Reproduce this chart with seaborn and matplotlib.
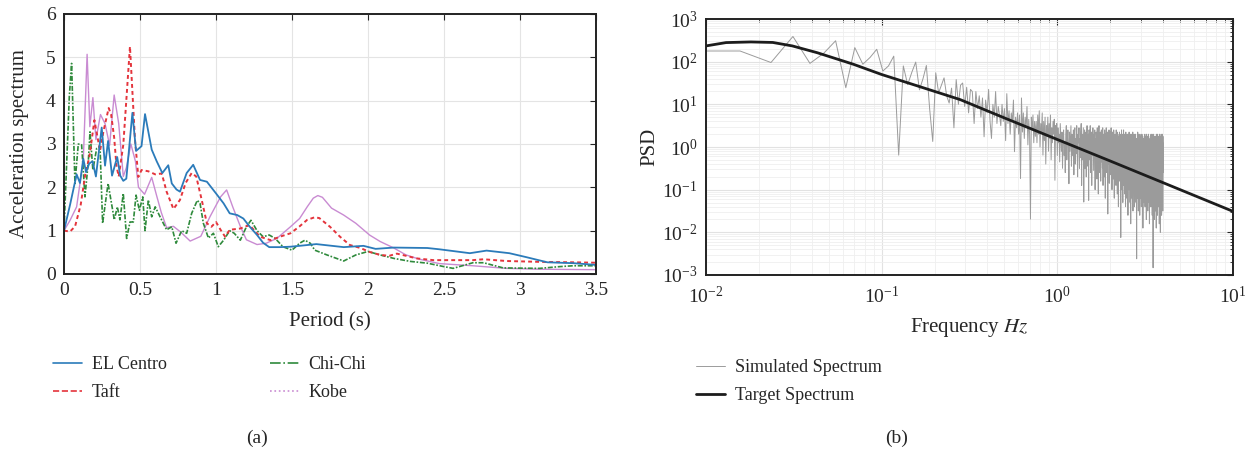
import numpy as np
import pandas as pd
import matplotlib
matplotlib.use("Agg")
import matplotlib.pyplot as plt
from matplotlib.lines import Line2D
import seaborn as sns

# ---- (a) acceleration spectra ----
elcentro_T = [0, 0.04, 0.083, 0.105, 0.127, 0.145, 0.166, 0.188, 0.21, 0.248, 0.27, 0.29, 0.316, 0.35,
              0.37, 0.39, 0.41, 0.45, 0.474, 0.51, 0.533, 0.577, 0.61, 0.647, 0.686, 0.709, 0.74, 0.763,
              0.807, 0.85, 0.895, 0.94, 1.0, 1.05, 1.09, 1.14, 1.18, 1.22, 1.27, 1.31, 1.35, 1.42, 1.49,
              1.55, 1.66, 1.84, 1.97, 2.05, 2.17, 2.39, 2.47, 2.67, 2.78, 2.93, 3.04, 3.18, 3.35, 3.5]
elcentro_S = [1.0, 1.6, 2.3, 2.1, 2.66, 2.35, 2.55, 2.6, 2.25, 3.38, 2.5, 3.07, 2.27, 2.7,
              2.27, 2.15, 2.2, 3.72, 2.84, 2.95, 3.69, 2.87, 2.6, 2.33, 2.51, 2.09, 1.95, 1.9,
              2.33, 2.52, 2.17, 2.13, 1.86, 1.63, 1.4, 1.36, 1.28, 1.1, 0.9, 0.72, 0.62, 0.62, 0.63,
              0.65, 0.69, 0.62, 0.65, 0.58, 0.61, 0.6, 0.57, 0.48, 0.54, 0.48, 0.39, 0.27, 0.25, 0.21]

taft_T = [0, 0.04, 0.073, 0.11, 0.14, 0.167, 0.2, 0.237, 0.26, 0.294, 0.31, 0.33, 0.345, 0.36, 0.39,
          0.434, 0.467, 0.489, 0.51, 0.555, 0.6, 0.643, 0.675, 0.72, 0.763, 0.8, 0.84, 0.87, 0.906,
          0.94, 0.97, 1.0, 1.03, 1.06, 1.09, 1.16, 1.22, 1.29, 1.36, 1.42, 1.49, 1.55, 1.6, 1.65,
          1.68, 1.75, 1.816, 1.88, 1.95, 2.01, 2.08, 2.14, 2.19, 2.25, 2.32, 2.43, 2.54, 2.69, 2.76,
          2.91, 3.13, 3.35, 3.5]
taft_S = [1.0, 0.98, 1.1, 1.6, 2.3, 2.7, 3.55, 2.84, 3.3, 3.83, 3.68, 3.15, 2.5, 2.25, 2.98,
          5.25, 3.1, 2.24, 2.4, 2.37, 2.3, 2.32, 1.9, 1.5, 1.71, 2.1, 2.33, 2.25, 1.71,
          1.17, 1.09, 1.2, 1.02, 0.86, 1.02, 1.05, 1.13, 0.86, 0.78, 0.86, 0.94, 1.1, 1.25, 1.31,
          1.29, 1.09, 0.86, 0.67, 0.6, 0.51, 0.44, 0.42, 0.47, 0.42, 0.36, 0.32, 0.32, 0.32, 0.34,
          0.3, 0.28, 0.27, 0.26]

chichi_T = [0, 0.035, 0.05, 0.072, 0.094, 0.116, 0.138, 0.16, 0.171, 0.19, 0.215, 0.237, 0.254,
            0.29, 0.331, 0.351, 0.368, 0.39, 0.412, 0.434, 0.456, 0.474, 0.496, 0.518, 0.533, 0.555,
            0.577, 0.6, 0.632, 0.675, 0.709, 0.737, 0.774, 0.807, 0.84, 0.877, 0.895, 0.917, 0.95,
            0.983, 1.015, 1.05, 1.09, 1.12, 1.16, 1.2, 1.23, 1.27, 1.31, 1.35, 1.39, 1.44, 1.5, 1.55,
            1.585, 1.62, 1.65, 1.73, 1.84, 1.92, 2.0, 2.08, 2.17, 2.28, 2.39, 2.5, 2.56, 2.69, 2.76,
            2.89, 3.13, 3.26, 3.35, 3.5]
chichi_S = [1.0, 4.1, 4.86, 2.09, 3.0, 2.98, 1.78, 2.6, 3.28, 2.4, 2.9, 2.94, 1.17,
            2.09, 1.25, 1.55, 1.25, 1.86, 0.82, 1.2, 1.2, 1.82, 1.47, 1.78, 1.0, 1.71,
            1.32, 1.55, 1.32, 1.02, 1.09, 0.71, 1.0, 0.94, 1.4, 1.7, 1.63, 1.17, 0.83,
            0.94, 0.63, 0.78, 1.0, 0.94, 0.78, 1.09, 1.24, 1.0, 0.86, 0.9, 0.82, 0.63, 0.55, 0.71,
            0.78, 0.71, 0.55, 0.44, 0.3, 0.44, 0.52, 0.44, 0.36, 0.29, 0.25, 0.17, 0.13, 0.26, 0.26,
            0.14, 0.13, 0.17, 0.19, 0.19]

kobe_T = [0, 0.04, 0.083, 0.127, 0.152, 0.17, 0.19, 0.21, 0.24, 0.27, 0.3, 0.33, 0.36, 0.39, 0.41,
          0.44, 0.47, 0.49, 0.53, 0.577, 0.61, 0.64, 0.675, 0.72, 0.77, 0.83, 0.9, 0.96, 1.03, 1.07,
          1.11, 1.16, 1.2, 1.27, 1.33, 1.4, 1.49, 1.55, 1.6, 1.64, 1.67, 1.7, 1.76, 1.84, 1.92,
          2.01, 2.08, 2.17, 2.25, 2.34, 2.47, 2.69, 2.91, 3.13, 3.5]
kobe_S = [1.0, 1.24, 1.55, 2.63, 5.07, 3.4, 4.07, 3.1, 3.68, 3.47, 2.97, 4.13, 3.47, 2.25, 2.45,
          3.0, 2.6, 2.0, 1.84, 2.23, 1.8, 1.42, 1.07, 1.1, 0.96, 0.76, 0.87, 1.32, 1.78, 1.94,
          1.55, 1.1, 0.79, 0.68, 0.71, 0.82, 1.09, 1.28, 1.55, 1.75, 1.81, 1.77, 1.52, 1.36, 1.17,
          0.9, 0.75, 0.6, 0.44, 0.34, 0.24, 0.19, 0.13, 0.11, 0.1]

records = ["EL Centro", "Taft", "Chi-Chi", "Kobe"]

# ---- (b) PSD ----
target_f = [0.01, 0.013, 0.018, 0.024, 0.031, 0.043, 0.069, 0.1, 0.16, 0.28, 0.5, 1, 2, 5, 10]
target_psd = [234, 280, 290, 282, 234, 162, 87, 50, 27, 12.9, 4.8, 1.5, 0.47, 0.1, 0.031]

df_sim = 1 / 128  # frequency step of simulated spectrum (Hz)
sim_log10 = [
    2.25, 2.25, 1.98, 2.59, 1.96, 2.2, 2.49, 1.39, 2.33, 1.94, 2.1, 2.29, 1.78, 1.9, 2.13, -0.19,
    1.9, 1.46, 1.75, 1.99, 1.34, 1.6, 1.91, 0.9, 0.13, 1.74, 1.27, 1.45, 1.62, 1.2, 1.03, 1.38,
    0.45, 1.58, 1.0, 1.45, 1.5, 0.95, 1.4, 0.8, 1.35, 1.3, 0.55, 1.3, 0.9, 1.2, 0.7, 1.15,
    0.24, 1.1, 0.8, 1.35, 0.6, 0.2, 1.0, 0.7, 1.3, 0.55, 0.95, 0.75, 0.5, 1.0, 0.6, 0.9,
    0.15, 1.25, 0.55, 0.85, 0.3, 0.8, 0.6, 1.1, -0.11, 0.7, 0.45, 0.8, 0.3, 0.75, -0.74, 1.15,
    0.35, 0.8, 0.2, 0.7, 0.45, 0.95, 0.05, 0.65, 0.3, -1.69, 0.7, 0.4, 0.75, 0.1, 0.6, 0.25,
    0.6, 0.1, 0.75, 0.3, 0.85, 0.0, 0.55, 0.35, 0.8, -0.19, 0.6, 0.15, 0.7, -0.4, 0.5, 0.25,
    0.7, -0.1, 0.55, 0.2, 0.75, -0.3, 0.45, 0.1, 0.6, 0.3, 0.65, -0.78, 0.5, 0.15, 0.55, -0.2,
    0.45, 0.1, 0.3, -0.35, 0.55, 0.2, -0.1, 0.35, -0.5, 0.25, 0.4, -0.2, 0.1, -0.6, 0.3, 0.5,
    -0.3, 0.15, 0.4, 0.05, -0.86, 0.35, -0.1, 0.2, 0.5, -0.45, 0.3, 0.1, -0.2, 0.4, -0.65, 0.25,
    0.45, -0.4, 0.2, -0.15, 0.5, 0.0, -0.7, 0.3, 0.1, 0.45, -0.5, 0.2, -0.25, 0.35, 0.55, -0.9,
    0.3, -0.3, 0.1, 0.45, -1.29, 0.2, 0.4, -0.5, 0.0, 0.35, -0.7, 0.25, 0.5, -0.2, -0.45, 0.3,
    -1.25, 0.4, 0.1, -0.3, 0.5, -0.6, 0.15, 0.35, -0.9, 0.25, -0.2, 0.45, 0.0, -0.55, 0.3, -0.1,
    0.4, -1.0, 0.2, -0.4, 0.35, 0.1, -0.75, 0.45, -0.3, 0.15, -1.1, 0.3, 0.5, -0.15, -0.6, 0.2,
    0.35, -0.8, 0.05, 0.4, -0.35, 0.25, -0.5, 0.45, -0.9, 0.1, 0.3, -0.25, -0.7, 0.4, 0.15, -1.2,
    0.3, -0.1, 0.45, -0.6, 0.2, -0.3, 0.35, -1.57, 0.25, -0.4, 0.1, 0.4, -0.85, 0.2, -0.2, 0.35,
    -0.65, 0.15, 0.45, -0.5, 0.3, -1.0, 0.0, 0.35, -0.3, 0.2, -0.75, 0.4, 0.1, -1.2, 0.25, -0.45,
    0.3, -0.2, 0.1, -0.9, 0.4, -0.6, 0.2, 0.35, -1.1, 0.0, 0.3, -0.5, -1.4, 0.25, 0.1, -0.3,
    0.35, -0.8, 0.15, -0.55, 0.3, -2.12, 0.2, -0.4, 0.4, -1.0, 0.05, 0.3, -0.6, -1.3, 0.25, -0.2,
    0.4, -0.9, 0.1, -0.5, 0.3, -1.1, 0.2, -0.3, -1.4, 0.35, -0.6, 0.0, 0.25, -1.2, -0.4, 0.3,
    -0.7, 0.15, -1.6, 0.3, -0.4, 0.2, -1.0, 0.35, -0.2, -0.7, 0.1, -1.3, 0.3, -0.5, -1.8, 0.2,
    0.3, -0.6, 0.05, -1.2, 0.25, -0.3, -0.8, 0.35, -1.5, 0.1, -0.5, 0.2, -1.0, 0.3, -0.6, -1.4,
    0.25, -0.4, 0.1, -1.1, 0.3, -0.7, -1.3, 0.15, -0.3, -2.62, 0.2, -0.5, 0.0, -1.2, 0.35, -0.7,
    0.15, -1.5, 0.3, -0.3, -1.0, 0.1, -0.6, 0.2, -1.6, 0.3, -0.4, -0.1, -1.2, 0.25, -0.8, 0.1,
    -1.4, 0.2, -0.5, 0.3, -1.1, 0.0, -0.7, 0.25, -1.9, 0.1, -0.3, -1.0, 0.2, -0.6, 0.15, -1.3,
    0.2, -0.8, 0.3, -1.4, -0.1, -0.5, 0.25, -1.1, 0.15, -0.7, -1.7, 0.3, -0.4, 0.05, -1.2, 0.2,
    -0.6, 0.25, -1.5, 0.1, -0.9, 0.3, -0.4, -1.3, 0.2, -0.7, 0.0, -1.8, 0.15, -0.5, 0.1, -1.1,
    0.25, -0.8, 0.15, -1.4, 0.3, -0.6, -0.1, -1.2, 0.2, -0.9, 0.3, -1.6, 0.1, -0.5, -1.0, 0.25,
    -2.83, 0.2, -0.7, 0.3, -1.3, 0.1, -0.4, -1.7, 0.25, -0.8, 0.05, -1.2, 0.2, -0.6, 0.15, -1.5,
    0.25, -0.9, 0.1, -1.9, 0.3, -0.5, 0.0, -1.3, 0.2, -0.8, -1.6, 0.3, -0.4, 0.15, -1.1, 0.2,
    -0.7, 0.1, -1.4, 0.25, -0.9, 0.2, -1.8, 0.3, -0.6, 0.05, -1.2, 0.25, -0.5, -2.0, 0.2, -0.8,
    0.15, -1.3, 0.3, -0.7, 0.1, -1.6, 0.25, -0.5, 0.2, -1.1, 0.3, -0.8, 0.1, -1.5, 0.25, -0.6,
]

# ---- style ----
sns.set_style("white")
plt.rcParams["font.family"] = ["Liberation Serif", "DejaVu Serif"]
plt.rcParams["mathtext.fontset"] = "stix"
plt.rcParams["axes.unicode_minus"] = False

fig = plt.figure(figsize=(12.57, 4.51), dpi=100)
ax1 = fig.add_axes([64 / 1257, 1 - 274 / 451, (596 - 64) / 1257, (274 - 14) / 451])
ax2 = fig.add_axes([706 / 1257, 1 - 275 / 451, (1233 - 706) / 1257, (275 - 19) / 451])

colors = {"EL Centro": "#2b7bba", "Taft": "#e4343c", "Chi-Chi": "#2f8a3c", "Kobe": "#c98bd2"}
styles = {"EL Centro": "-", "Taft": (0, (2, 1.6)), "Chi-Chi": (0, (3, 1, 1, 1)), "Kobe": "-"}
widths = {"EL Centro": 1.3, "Taft": 1.4, "Chi-Chi": 1.2, "Kobe": 1.0}
series = {"EL Centro": (elcentro_T, elcentro_S), "Taft": (taft_T, taft_S),
          "Chi-Chi": (chichi_T, chichi_S), "Kobe": (kobe_T, kobe_S)}

for name in ["Kobe", "Chi-Chi", "Taft", "EL Centro"]:
    T, S = series[name]
    d = pd.DataFrame({"T": T, "S": S})
    sns.lineplot(data=d, x="T", y="S", ax=ax1, color=colors[name], linestyle=styles[name],
                 linewidth=widths[name], sort=False)

ax1.set_xlim(0, 3.5)
ax1.set_ylim(0, 6)
ax1.set_xticks([0, 0.5, 1, 1.5, 2, 2.5, 3, 3.5])
ax1.set_xticklabels(["0", "0.5", "1", "1.5", "2", "2.5", "3", "3.5"])
ax1.set_yticks(range(7))
ax1.grid(True, color="#e4e4e4", linewidth=0.8)
ax1.set_xlabel("Period (s)", fontsize=15, labelpad=9)
ax1.set_ylabel("Acceleration spectrum", fontsize=15, labelpad=12)

leg_handles = [Line2D([], [], color=colors["EL Centro"], ls="-", lw=1.2),
               Line2D([], [], color=colors["Taft"], ls="--", lw=1.2),
               Line2D([], [], color=colors["Chi-Chi"], ls="-.", lw=1.2),
               Line2D([], [], color=colors["Kobe"], ls=":", lw=1.2)]
ax1.legend(leg_handles, records, ncol=2, loc="upper left", bbox_to_anchor=(53 / 1257, 1 - 356 / 451),
           bbox_transform=fig.transFigure, frameon=False, fontsize=13, handlelength=1.6,
           handletextpad=0.55, columnspacing=5.7, labelspacing=0.62, borderpad=0, borderaxespad=0)

# ---- (b) ----
sim = pd.DataFrame({"f": np.arange(1, len(sim_log10) + 1) * df_sim, "psd": 10 ** np.array(sim_log10)})
tgt = pd.DataFrame({"f": target_f, "psd": target_psd})
sns.lineplot(data=sim, x="f", y="psd", ax=ax2, color="#9b9b9b", linewidth=0.7, label="Simulated Spectrum")
sns.lineplot(data=tgt, x="f", y="psd", ax=ax2, color="#1c1c1c", linewidth=2.0, label="Target Spectrum")
ax2.set_xscale("log")
ax2.set_yscale("log")
ax2.set_xlim(0.01, 10)
ax2.set_ylim(1e-3, 1e3)
ax2.grid(True, which="major", color="#e2e2e2", linewidth=0.8)
ax2.grid(True, which="minor", color="#efefef", linewidth=0.6)
ax2.set_xlabel("Frequency $Hz$", fontsize=15, labelpad=6)
ax2.set_ylabel("PSD", fontsize=15, labelpad=2)
ax2.legend(loc="upper left", bbox_to_anchor=(696 / 1257, 1 - 359 / 451), bbox_transform=fig.transFigure,
           frameon=False, fontsize=13, handlelength=1.6, handletextpad=0.55, labelspacing=0.62,
           borderpad=0, borderaxespad=0)

for ax in (ax1, ax2):
    ax.tick_params(which="both", direction="in", top=True, right=True, labelsize=14)
    ax.tick_params(which="major", length=4, width=0.8, pad=6)
    ax.tick_params(which="minor", length=2, width=0.6)
    for sp in ax.spines.values():
        sp.set_visible(True)
        sp.set_color("#222222")
        sp.set_linewidth(1.4)
ax2.tick_params(axis="x", which="major", pad=8)

fig.text(257 / 1257, 1 - 438 / 451, "(a)", ha="center", va="center", fontsize=14)
fig.text(897 / 1257, 1 - 438 / 451, "(b)", ha="center", va="center", fontsize=14)

fig.savefig("out.png", dpi=100)
